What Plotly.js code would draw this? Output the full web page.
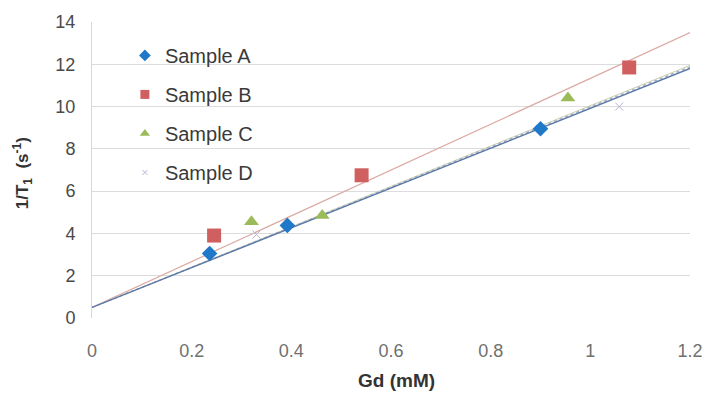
<!DOCTYPE html>
<html><head><meta charset="utf-8">
<script src="https://cdn.plot.ly/plotly-3.0.1.min.js"></script>
<style>html,body{margin:0;padding:0;background:#fff}#c{width:707px;height:394px}</style>
</head><body><div id="c"></div>
<script>
const seriesNames = ["Sample A", "Sample B", "Sample C", "Sample D"];
const xA = [0.236, 0.392, 0.900];
const yA = [3.05, 4.38, 8.95];
const xB = [0.245, 0.541, 1.078];
const yB = [3.90, 6.75, 11.85];
const xC = [0.320, 0.462, 0.955];
const yC = [4.55, 4.85, 10.40];
const xD = [0.330, 1.058];
const yD = [3.95, 10.00];
// trend lines: value at x=0 and at x=1.2
const trendX = [0, 1.2];
const trendA = [0.5, 11.8];
const trendB = [0.5, 13.5];
const trendC = [0.5, 11.95];
const trendD = [0.5, 11.88];
const xTicks = [0, 0.2, 0.4, 0.6, 0.8, 1, 1.2];
const xTickText = ["0", "0.2", "0.4", "0.6", "0.8", "1", "1.2"];
const yTicks = [0, 2, 4, 6, 8, 10, 12, 14];

const colA = "#1f78c8", colB = "#d0605f", colC = "#9bbb59", colD = "#b4b4d8";
const cols = [colA, colB, colC, colD];
const symbols = ["diamond", "square", "triangle-up", "x-thin"];
const groups = ["a", "b", "c", "d"];

const traces = [
  {x: trendX, y: trendB, mode: "lines", line: {color: "#dba9a2", width: 1.2}, showlegend: false, hoverinfo: "skip"},
  {x: trendX, y: trendC, mode: "lines", line: {color: "#c8d0b0", width: 1}, showlegend: false, hoverinfo: "skip"},
  {x: trendX, y: trendD, mode: "lines", line: {color: "#a9aac2", width: 1.4, dash: "dot"}, showlegend: false, hoverinfo: "skip"},
  {x: trendX, y: trendA, mode: "lines", line: {color: "#5a78a8", width: 1.4}, showlegend: false, hoverinfo: "skip"},
  {x: xA, y: yA, mode: "markers", showlegend: false,
   marker: {symbol: "diamond", size: 12, color: colA}},
  {x: xB, y: yB, mode: "markers", showlegend: false,
   marker: {symbol: "square", size: 14, color: colB}},
  {x: xC, y: yC, mode: "markers", showlegend: false,
   marker: {symbol: "triangle-up", size: 13, color: colC}},
  {x: xD, y: yD, mode: "markers", showlegend: false,
   marker: {symbol: "x-thin", size: 8, line: {color: colD, width: 1}, color: colD}}
];
// legend entries with small symbols
seriesNames.forEach((n, i) => {
  traces.push({x: [null], y: [null], name: n, mode: "markers", legendgroup: groups[i],
    marker: {symbol: symbols[i], size: i === 3 ? 5 : 9, color: cols[i],
             line: i === 3 ? {color: cols[i], width: 1} : {width: 0}}});
});

const layout = {
  width: 707, height: 394,
  margin: {l: 92, r: 17, t: 22, b: 76},
  paper_bgcolor: "#ffffff", plot_bgcolor: "#ffffff",
  font: {family: "Liberation Sans, Arial, sans-serif", color: "#404040"},
  xaxis: {
    range: [0, 1.2], tickvals: xTicks, ticktext: xTickText,
    showgrid: false, zeroline: false, showline: false,
    ticks: "", ticklabelstandoff: 20,
    tickfont: {size: 18, color: "#707070"}
  },
  yaxis: {
    range: [0, 14], tickvals: yTicks,
    showgrid: true, gridcolor: "#dcdcdc", gridwidth: 1,
    zeroline: false, showline: true, linecolor: "#d8d8d8",
    ticks: "", ticklabelstandoff: 12,
    tickfont: {size: 18, color: "#4a4a4a"}
  },
  showlegend: true,
  legend: {
    x: 0.055, y: 0.953, xanchor: "left", yanchor: "top",
    bgcolor: "rgba(255,255,255,0)", traceorder: "grouped",
    tracegroupgap: 10, itemwidth: 30,
    font: {size: 20, color: "#3a3a3a"}
  },
  annotations: [
    {text: "<b>Gd (mM)</b>", xref: "paper", yref: "paper", x: 0.51, y: -0.255,
     xanchor: "center", yanchor: "bottom", showarrow: false,
     font: {size: 19, color: "#333333"}},
    {text: "<b>1/T<sub>1</sub>  (s<sup>-1</sup>)</b>", xref: "paper", yref: "paper",
     x: -0.115, y: 0.49, xanchor: "center", yanchor: "middle", showarrow: false,
     textangle: -90, font: {size: 17, color: "#333333"}}
  ]
};

Plotly.newPlot("c", traces, layout, {displayModeBar: false, staticPlot: true});
</script>
</body></html>
